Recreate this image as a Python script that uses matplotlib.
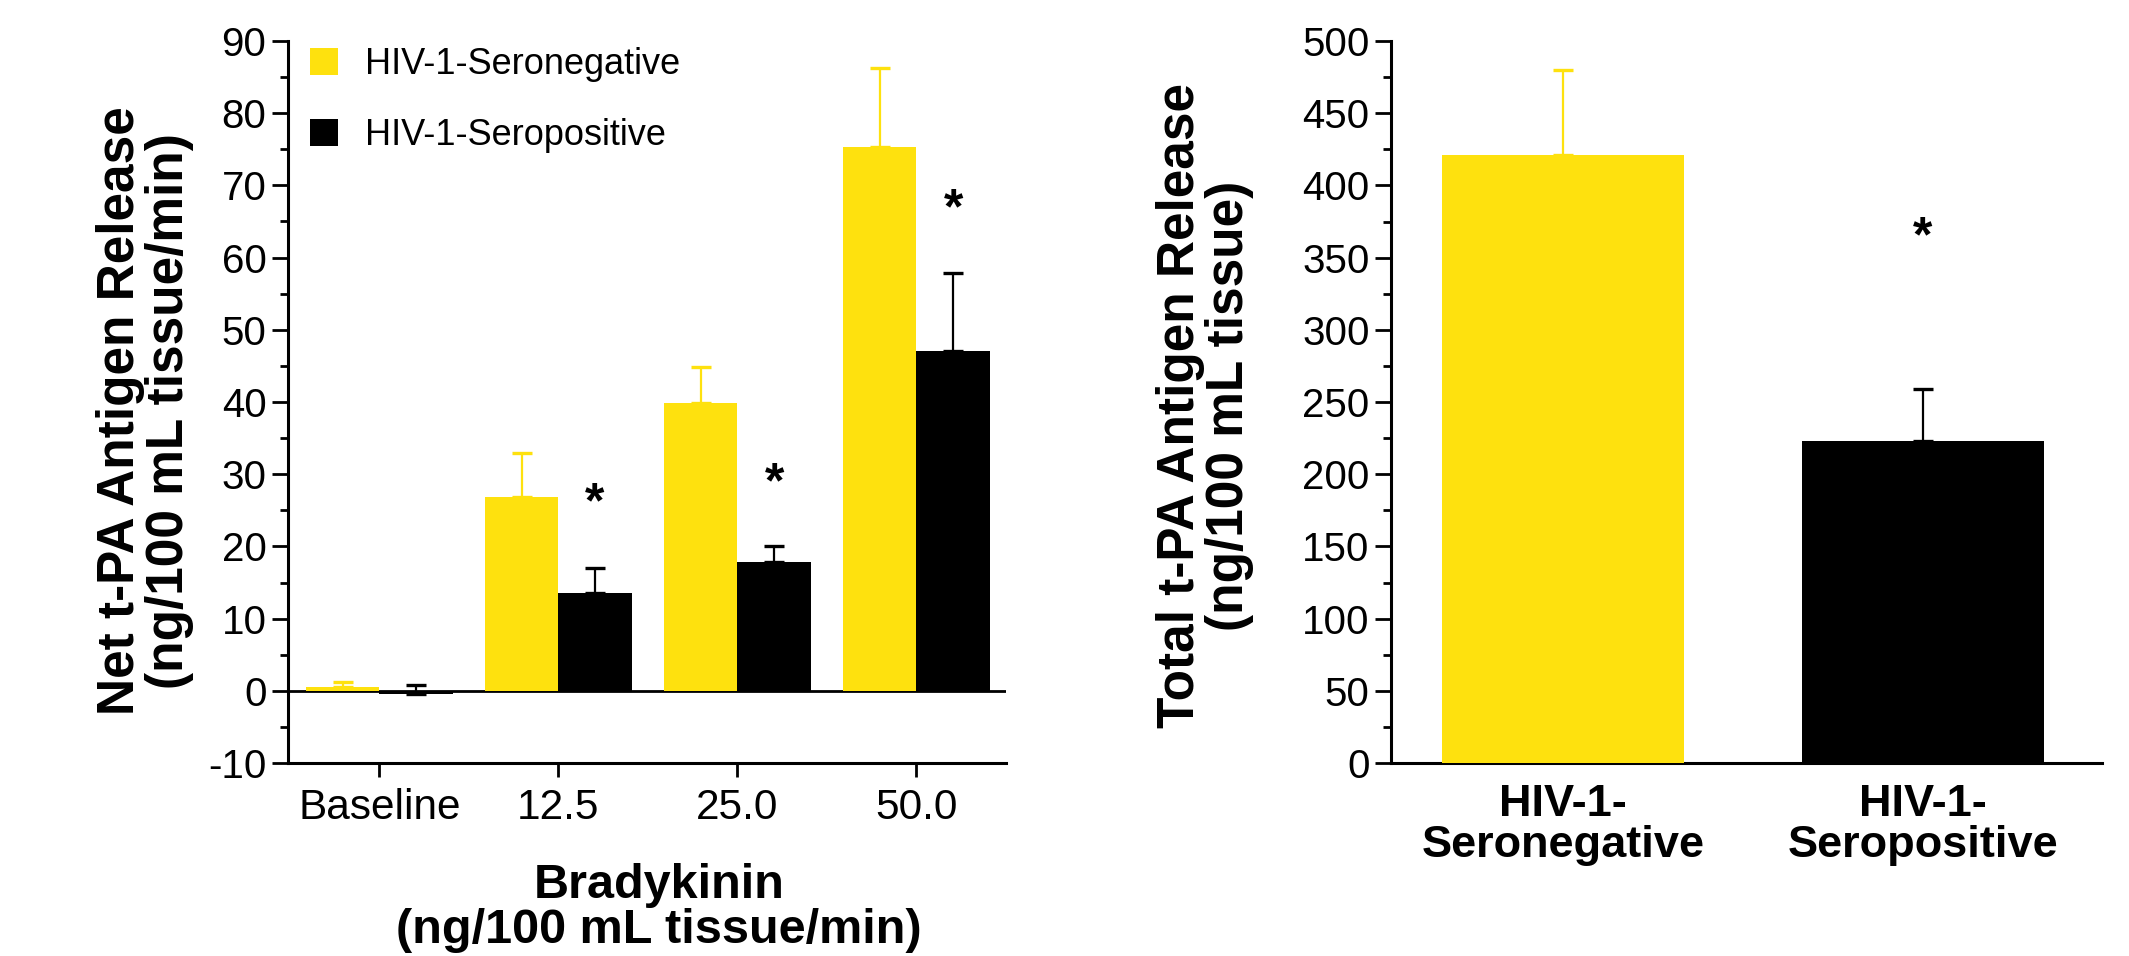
import matplotlib
matplotlib.use("Agg")
import matplotlib.pyplot as plt
import numpy as np
from matplotlib.ticker import MultipleLocator
from matplotlib.transforms import offset_copy

plt.rcParams['font.family'] = ['Liberation Sans', 'DejaVu Sans']
plt.rcParams['axes.unicode_minus'] = False

# ---- data ----
conc_labels = ['Baseline', '12.5', '25.0', '50.0']
neg_net = [0.55, 26.8, 39.8, 75.3]
neg_net_err = [0.6, 6.2, 5.0, 11.0]
pos_net = [-0.45, 13.5, 17.9, 47.1]
pos_net_err = [1.25, 3.5, 2.1, 10.7]
net_sig = [False, True, True, True]
net_star_y = [None, 27.3, 30.2, 68.1]

group_labels = ['HIV-1-\nSeronegative', 'HIV-1-\nSeropositive']
total_vals = [421, 223]
total_err = [59, 36]
total_sig = [False, True]
total_star_y = [None, 371]

series_names = ['HIV-1-Seronegative', 'HIV-1-Seropositive']

YELLOW = '#FEE10E'
BLACK = '#000000'

W, H = 2129, 956
fig = plt.figure(figsize=(W / 100, H / 100), dpi=100)

def px_axes(x0, x1, ytop, ybot):
    return fig.add_axes([x0 / W, 1 - ybot / H, (x1 - x0) / W, (ybot - ytop) / H])

ax1 = px_axes(288, 1006, 41, 763)
ax2 = px_axes(1391, 2102, 41, 763)

for ax in (ax1, ax2):
    for s in ('top', 'right'):
        ax.spines[s].set_visible(False)
    for s in ('left', 'bottom'):
        ax.spines[s].set_linewidth(2.2)
    ax.tick_params(axis='y', which='major', length=11.5, width=2, labelsize=29, pad=4)
    ax.tick_params(axis='y', which='minor', length=6, width=2)

# ---- left panel ----
x = np.arange(len(conc_labels))
bw = 0.41
b1 = ax1.bar(x - bw / 2, neg_net, bw, color=YELLOW, label=series_names[0], zorder=3)
b2 = ax1.bar(x + bw / 2, pos_net, bw, color=BLACK, label=series_names[1], zorder=3)
ax1.errorbar(x - bw / 2, neg_net, yerr=[np.zeros(len(x)), neg_net_err], fmt='none',
             ecolor=YELLOW, elinewidth=1.6, capsize=7, capthick=2.4, zorder=2)
ax1.errorbar(x + bw / 2, pos_net, yerr=[np.zeros(len(x)), pos_net_err], fmt='none',
             ecolor=BLACK, elinewidth=1.6, capsize=7, capthick=2.4, zorder=2)
ax1.axhline(0, color='black', lw=2.0, zorder=1)
star_tr1 = offset_copy(ax1.transData, fig=fig, x=0, y=-8, units='points')
for i, (s, sy) in enumerate(zip(net_sig, net_star_y)):
    if s:
        ax1.text(x[i] + bw / 2, sy, '*', ha='center', va='center', fontsize=36,
                 fontweight='bold', transform=star_tr1)
ax1.set_xlim(-0.51, 3.5)
ax1.set_ylim(-10, 90)
ax1.yaxis.set_major_locator(MultipleLocator(10))
ax1.yaxis.set_minor_locator(MultipleLocator(5))
ax1.set_xticks(x)
ax1.set_xticklabels(conc_labels)
ax1.tick_params(axis='x', length=10, width=2, labelsize=30.5, pad=8)

leg = ax1.legend(handles=[b1, b2], loc='upper left',
                 bbox_to_anchor=(310 / W, 1 - 47 / H), bbox_transform=fig.transFigure,
                 frameon=False, fontsize=26, handlelength=0.78, handleheight=0.8,
                 handletextpad=0.75, labelspacing=1.0, borderpad=0, borderaxespad=0)

fig.text(145 / W, 1 - 411 / H, 'Net t-PA Antigen Release\n(ng/100 mL tissue/min)',
         rotation=90, ha='center', va='center', fontsize=37, fontweight='bold',
         multialignment='center', linespacing=1.0)
fig.text(659 / W, 1 - 908 / H, 'Bradykinin\n(ng/100 mL tissue/min)',
         ha='center', va='center', fontsize=35, fontweight='bold',
         multialignment='center', linespacing=1.0)

# ---- right panel ----
x2 = np.arange(len(group_labels))
bw2 = 0.67
ax2.bar(x2, total_vals, bw2, color=[YELLOW, BLACK], zorder=3)
star_tr2 = offset_copy(ax2.transData, fig=fig, x=0, y=-8, units='points')
for i in range(len(x2)):
    ax2.errorbar(x2[i], total_vals[i], yerr=[[0], [total_err[i]]], fmt='none',
                 ecolor=[YELLOW, BLACK][i], elinewidth=1.6, capsize=7, capthick=2.4,
                 zorder=2)
    if total_sig[i]:
        ax2.text(x2[i], total_star_y[i], '*', ha='center', va='center', fontsize=36,
                 fontweight='bold', transform=star_tr2)
ax2.set_xlim(-0.478, 1.497)
ax2.set_ylim(0, 500)
ax2.yaxis.set_major_locator(MultipleLocator(50))
ax2.yaxis.set_minor_locator(MultipleLocator(25))
ax2.set_xticks(x2)
ax2.set_xticklabels(group_labels, fontweight='bold', linespacing=1.0)
ax2.tick_params(axis='x', length=0, labelsize=32.5, pad=15)

fig.text(1205 / W, 1 - 406 / H, 'Total t-PA Antigen Release\n(ng/100 mL tissue)',
         rotation=90, ha='center', va='center', fontsize=37, fontweight='bold',
         multialignment='center', linespacing=1.0)

fig.savefig('out.png', dpi=100)
